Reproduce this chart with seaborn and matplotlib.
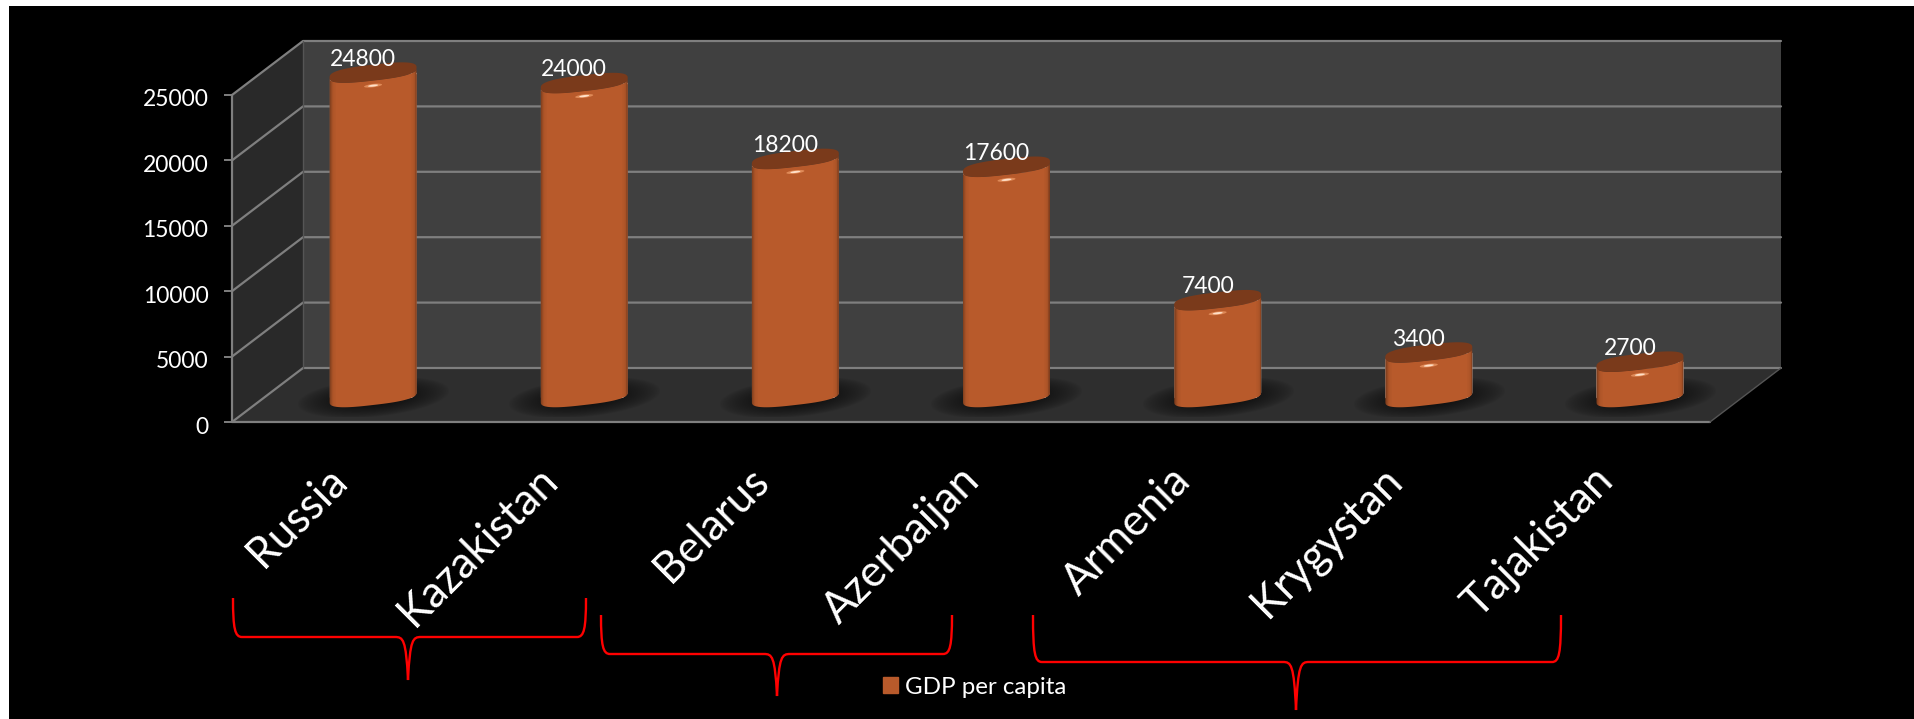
import numpy as np
import pandas as pd
import matplotlib
matplotlib.use('Agg')
import matplotlib.pyplot as plt
import matplotlib.transforms as mtrans
import seaborn as sns
from matplotlib.patches import Polygon, PathPatch, Patch
from matplotlib.path import Path

# chart values
countries = ['Russia', 'Kazakistan', 'Belarus', 'Azerbaijan', 'Armenia', 'Krygystan', 'Tajakistan']
gdp = [24800, 24000, 18200, 17600, 7400, 3400, 2700]
y_ticks = [0, 5000, 10000, 15000, 20000, 25000]
series_name = 'GDP per capita'

# red braces drawn on the slide: left, right, top of arms, bar level, tip x, tip y (full size pixels)
braces = [(233, 586, 598, 637, 408, 680),
          (601, 952, 615, 654, 777, 696),
          (1033, 1561, 615, 662, 1296, 710)]

W, H = 1914, 719
sns.set_theme(style='dark')
plt.rcParams['font.family'] = ['Lato', 'DejaVu Sans']

fig = plt.figure(figsize=(W / 100, H / 100), dpi=100, facecolor='white')


def px_axes(x0, x1, y_top, y_bottom):
    return fig.add_axes([x0 / W, 1 - y_bottom / H, (x1 - x0) / W, (y_bottom - y_top) / H])


# slide background, in pixels
bg = fig.add_axes([0, 0, 1, 1], zorder=0)
bg.set_xlim(0, W)
bg.set_ylim(H, 0)
bg.axis('off')
bg.add_patch(plt.Rectangle((9, 6), W - 9, H - 6, color='black', lw=0))

# front plane of the 3D box
left, right, zero_y, top_y = 232, 1710, 422, 95
depth_x, depth_y = 71, 54
ax = px_axes(left, right, top_y, zero_y)
ax.set_zorder(1)
ax.patch.set_alpha(0)
n = len(countries)
ax.set_xlim(0, n)
ax.set_ylim(0, 25000)
dx = depth_x / ((right - left) / n)
dy = depth_y / ((zero_y - top_y) / 25000)
ymax = y_ticks[-1]
ax.add_patch(Polygon([(dx, dy), (n + dx, dy), (n + dx, ymax + dy), (dx, ymax + dy)],
                     color='#404040', lw=0, clip_on=False, zorder=1))
ax.add_patch(Polygon([(0, 0), (dx, dy), (dx, ymax + dy), (0, ymax)],
                     color='#292929', lw=0, clip_on=False, zorder=1))
ax.add_patch(Polygon([(0, 0), (n, 0), (n + dx, dy), (dx, dy)],
                     color='#2e2e2e', lw=0, clip_on=False, zorder=1))
for v in y_ticks:
    ax.plot([0, dx, n + dx], [v, v + dy, v + dy], color='#7f7f7f', lw=1.6, clip_on=False, zorder=2)
ax.plot([0, 0], [0, ymax], color='#7f7f7f', lw=1.6, clip_on=False, zorder=2)
ax.plot([0, n], [0, 0], color='#7f7f7f', lw=1.6, clip_on=False, zorder=2)
ax.plot([dx, dx], [dy, ymax + dy], color='#555555', lw=1, clip_on=False, zorder=2)
ax.plot([n, n + dx], [0, dy], color='#555555', lw=1, clip_on=False, zorder=2)

sns.despine(ax=ax, left=True, bottom=True)
ax.grid(False)
ax.set_yticks(y_ticks)
ax.set_yticklabels([str(v) for v in y_ticks], color='white', fontsize=16.5)
ax.set_xticks(range(n + 1))
ax.set_xticklabels([])
# labels sit a little left of the category centres
ax.set_xticks(np.arange(n) + 0.5 - 0.057, minor=True)
ax.set_xticklabels(countries, minor=True, rotation=45, ha='right', va='top',
                   rotation_mode='anchor', color='white', fontsize=31.5)
ax.tick_params(axis='x', which='major', length=12, width=1.4, color='#7f7f7f')
ax.tick_params(axis='x', which='minor', length=0, pad=27)
ax.tick_params(axis='y', which='major', length=6, width=1.4, color='#7f7f7f', pad=11, left=True)
ax.set_xlabel('')
ax.set_ylabel('')
shift_down = mtrans.ScaledTranslation(0, -3 / 100, fig.dpi_scale_trans)
for lab in ax.get_yticklabels():
    lab.set_transform(lab.get_transform() + shift_down)

# the bars stand half way into the box
bar_ax = px_axes(left + depth_x / 2, right + depth_x / 2, top_y - depth_y / 2 + 2, zero_y - depth_y / 2 + 2)
bar_ax.set_zorder(2)
bar_ax.patch.set_alpha(0)
df = pd.DataFrame({'country': countries, 'gdp': gdp})
sns.barplot(data=df, x='country', y='gdp', color='#b85a2b', width=0.412, saturation=1,
            ax=bar_ax, zorder=5)
bar_ax.set_xlim(-0.5, n - 0.5)
bar_ax.set_ylim(0, 25000)
bar_ax.axis('off')

# turn each bar into a leaning cylinder
px_per_cat = (right - left) / n
val_per_px = 25000 / (zero_y - top_y)
# gradient image is a bit wider than the bar so its edge never shows
over_w = 1.06
grad = np.interp(np.linspace(-over_w, over_w, 240),
                 [-1, -0.97, -0.92, -0.85, 0.85, 0.93, 0.98, 1],
                 [0.62, 0.8, 0.95, 1, 1, 0.94, 0.7, 0.55])
base_rgb = np.array([0xb8, 0x5a, 0x2b]) / 255
grad_img = grad[None, :, None] * base_rgb[None, None, :]
yy, xx = np.mgrid[-1:1:160j, -1:1:160j]
shadow_img = np.zeros((160, 160, 4))
# image rows run from the top, so the shadow rises to the right like the cylinder
shadow_img[..., 3] = np.clip(1.15 - np.hypot(xx, yy + 0.35 * xx) * 1.15, 0, 1) ** 0.7 * 0.8


def rounded(angle, power=0.72):
    # squarer than an ellipse, the cylinder ends in the reference are full at the sides
    return (np.sign(np.cos(angle)) * np.abs(np.cos(angle)) ** power,
            np.sign(np.sin(angle)) * np.abs(np.sin(angle)) ** power)


for bar, value in zip(bar_ax.patches, gdp):
    cx = bar.get_x() + bar.get_width() / 2
    a = bar.get_width() / 2
    slope = 10 * val_per_px / (2 * a)
    b = 8 * val_per_px
    t = np.linspace(0, 2 * np.pi, 120)
    ux, uy = rounded(t)
    ex = cx + a * ux
    ey = b * uy + slope * (ex - cx)
    lip = np.linspace(np.pi, 2 * np.pi, 60)
    lx, ly = rounded(lip)
    fx = cx + a * lx
    fy = b * ly + slope * (fx - cx)
    body = np.vstack([np.column_stack([fx, fy]),
                      np.column_stack([fx[::-1], fy[::-1] + value])])
    clip = Polygon(body, transform=bar_ax.transData, lw=0, fc='none')
    bar_ax.add_patch(clip)
    bar.set_clip_box(fig.bbox)
    bar.set_clip_path(clip)
    # shadow on the floor
    sh = bar_ax.imshow(shadow_img, extent=[cx - 1.75 * a, cx + 1.75 * a, -20 * val_per_px, 19 * val_per_px],
                       aspect='auto', zorder=3, clip_on=False)
    im = bar_ax.imshow(grad_img, extent=[cx - over_w * a, cx + over_w * a, -24 * val_per_px, value + 24 * val_per_px],
                       aspect='auto', zorder=6, interpolation='nearest')
    im.set_clip_box(fig.bbox)
    im.set_clip_path(clip)
    bar_ax.fill(ex, ey + value, color='#7a3a1b', lw=0, zorder=7, clip_on=False)
    # little highlight on the rim
    for half_w, half_h, col, z in [(9, 1.7, '#df8a58', 8), (5, 1, '#ffe0c8', 8.5)]:
        hx = cx + half_w / px_per_cat * np.cos(t)
        hy = value - 13 * val_per_px + half_h * val_per_px * np.sin(t) + slope * (hx - cx)
        bar_ax.fill(hx, hy, color=col, lw=0, zorder=z, clip_on=False)
    bar_ax.text(cx - 0.23 * a, value + 3 * val_per_px, str(value), color='white', fontsize=16.5,
                ha='center', va='bottom', zorder=9)
bar_ax.set_xlim(-0.5, n - 0.5)
bar_ax.set_ylim(0, 25000)

# legend
leg = fig.legend(handles=[Patch(color='#b85a2b', label=series_name)], frameon=False,
                 loc='center', bbox_to_anchor=(975 / W, 1 - 687 / H), fontsize=17.4,
                 labelcolor='white', handlelength=0.62, handleheight=0.66, handletextpad=0.3)

# red braces on top of everything
over = fig.add_axes([0, 0, 1, 1], zorder=5)
over.set_xlim(0, W)
over.set_ylim(H, 0)
over.axis('off')
over.patch.set_alpha(0)
for x0, x1, y0, y1, tx, ty in braces:
    verts = [(x0, y0), (x0, y1 - 8), (x0 + 2, y1), (x0 + 9, y1),
             (tx - 13, y1), (tx - 5, y1), (tx - 2, y1 + 2), (tx, ty),
             (tx + 2, y1 + 2), (tx + 5, y1), (tx + 13, y1),
             (x1 - 9, y1), (x1 - 2, y1), (x1, y1 - 8), (x1, y0)]
    codes = [Path.MOVETO, Path.CURVE4, Path.CURVE4, Path.CURVE4,
             Path.LINETO, Path.CURVE4, Path.CURVE4, Path.CURVE4,
             Path.CURVE4, Path.CURVE4, Path.CURVE4,
             Path.LINETO, Path.CURVE4, Path.CURVE4, Path.CURVE4]
    over.add_patch(PathPatch(Path(verts, codes), fc='none', ec='#ff0000', lw=1.7))

fig.savefig('out.png', dpi=100, facecolor='white')
